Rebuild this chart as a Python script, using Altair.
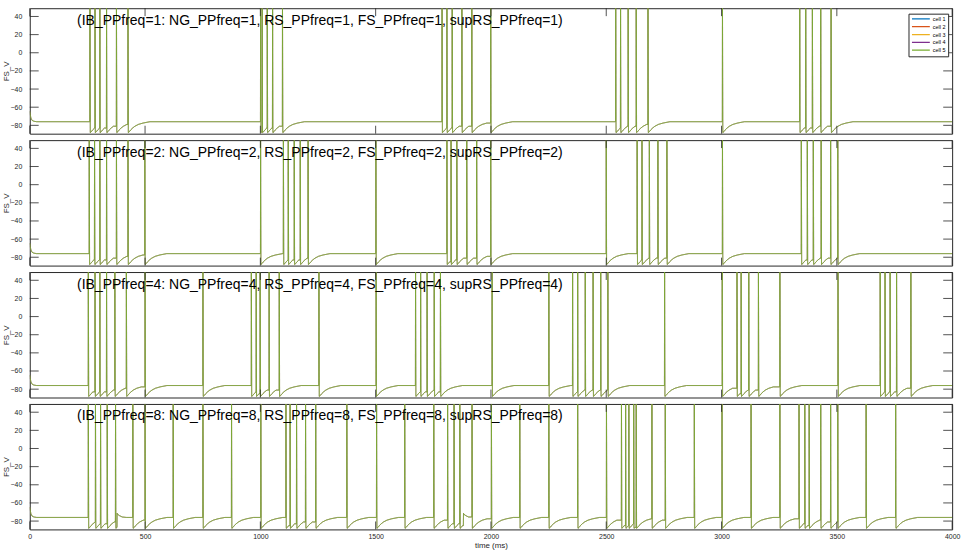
import altair as alt
import pandas as pd

# ---------------- data ----------------
T_MAX = 4000
Y_DOMAIN = [-89.2, 49.1]
y_ticks = [-80, -60, -40, -20, 0, 20, 40]
x_ticks = [0, 500, 1000, 1500, 2000, 2500, 3000, 3500, 4000]

cells = ["cell 1", "cell 2", "cell 3", "cell 4", "cell 5"]
cell_colors = ["#0072BD", "#D95319", "#EDB120", "#7E2F8E", "#77AC30"]

freqs = [1, 2, 4, 8]

spikes_f1 = [261, 283, 304, 333, 376, 426,
             1001, 1008, 1030, 1053, 1096,
             1788, 1809, 1832, 1874, 1917, 1999,
             2541, 2562, 2595, 2630, 2681,
             3004,
             3339, 3365, 3394, 3430, 3475]
spikes_f2 = [258, 281, 304, 333, 376, 426, 499,
             1001, 1100, 1121, 1147, 1173, 1207,
             1501, 1809, 1827, 1852, 1895, 1938, 1999,
             2500, 2634, 2655, 2687, 2724, 2763,
             3004, 3346, 3372, 3398, 3432, 3473, 3504]
spikes_f4 = [254, 283, 304, 333, 369, 419, 500, 751,
             961, 982, 999, 1038, 1082, 1254, 1502,
             1673, 1695, 1723, 1754, 1781, 2005,
             2251, 2354, 2376, 2409, 2443, 2476, 2507, 2753, 3003,
             3067, 3085, 3118, 3160, 3253, 3505,
             3688, 3709, 3731, 3759, 3821]
spikes_f8 = [254, 285, 307, 336, 372, 447, 500, 622, 751, 875,
             1002, 1111, 1129, 1157, 1196, 1240, 1375, 1504, 1626,
             1752, 1812, 1840, 1865, 1918, 2002,
             2125, 2251, 2376, 2501, 2566, 2584, 2598, 2619, 2630, 2698, 2756, 2882,
             3002, 3128, 3253, 3336, 3361, 3380, 3430, 3473, 3504, 3627, 3755]
bumps_f1, bumps_f2, bumps_f4 = [], [], []
bumps_f8 = [379, 1881]

spike_lists = [spikes_f1, spikes_f2, spikes_f4, spikes_f8]
bump_lists = [bumps_f1, bumps_f2, bumps_f4, bumps_f8]

# trace shape
onset_t = [0, 2, 5, 10, 18, 30]
onset_v = [-64.5, -68, -72, -74.5, -75.5, -76]
spike_peak = 60.0
rec_dt = [1.5, 6, 12, 20, 30, 45, 65, 95]
rec_v = [-88, -87, -85, -83, -81, -79, -77.5, -76]
bump_peak = -71.5
bump_dt = [2, 10, 22, 40]
bump_v = [-72.5, -74, -75.5, -76]

# ---------------- build traces ----------------
def build_trace(spikes, bumps):
    events = sorted([(t, "s") for t in spikes] + [(t, "b") for t in bumps])
    pts = list(zip(onset_t, onset_v))
    for i, (ts, kind) in enumerate(events):
        nxt = events[i + 1][0] if i + 1 < len(events) else T_MAX
        if pts[-1][0] < ts - 0.6:
            pts.append((ts - 0.6, pts[-1][1]))
        if kind == "s":
            pts.append((ts, spike_peak))
            dts, vs = rec_dt, rec_v
        else:
            pts.append((ts, bump_peak))
            dts, vs = bump_dt, bump_v
        for dt, v in zip(dts, vs):
            if ts + dt < nxt - 0.6:
                pts.append((ts + dt, v))
            else:
                break
    pts.append((T_MAX, pts[-1][1]))
    return pts


W, H = 930, 126.5
AX = "#262626"

x_scale = alt.Scale(domain=[0, T_MAX], nice=False, zero=False)
y_scale = alt.Scale(domain=Y_DOMAIN, nice=False, zero=False)


def panel(idx):
    f = freqs[idx]
    pts = build_trace(spike_lists[idx], bump_lists[idx])
    last = idx == len(freqs) - 1

    if last:
        x_axis = alt.Axis(values=x_ticks, ticks=False, domain=False, grid=False, format="d",
                          labelFontSize=7, labelPadding=3, labelColor=AX,
                          titleFontSize=8, titlePadding=2, titleColor=AX,
                          titleFontWeight="normal", labelFlush=False)
    else:
        x_axis = None
    x = alt.X("t:Q", scale=x_scale, axis=x_axis, title="time (ms)")
    y = alt.Y("v:Q", scale=y_scale, title="FS_V",
              axis=alt.Axis(values=y_ticks, ticks=False, domain=False, grid=False,
                            labelFontSize=7, labelPadding=8, labelColor=AX,
                            titleFontSize=8, titlePadding=1, titleColor=AX,
                            titleFontWeight="normal", minExtent=18, maxExtent=18))
    if idx == 0:
        legend = alt.Legend(orient="none", legendX=886, legendY=5.5, title=None,
                            labelFontSize=5.5, labelColor="black", symbolType="stroke",
                            symbolSize=324, symbolStrokeWidth=1.3, strokeColor=AX,
                            fillColor="white", padding=2.5, rowPadding=0.9, labelOffset=2,
                            clipHeight=5.5, cornerRadius=0)
    else:
        legend = None
    color = alt.Color("cell:N", scale=alt.Scale(domain=cells, range=cell_colors), legend=legend)

    line_layers = []
    for c in cells:
        df = pd.DataFrame({"t": [p[0] for p in pts],
                           "v": [p[1] for p in pts],
                           "cell": c})
        if c == cells[-1]:
            mk = alt.Chart(df).mark_line(strokeWidth=0.75, clip=True)
        else:
            mk = alt.Chart(df).mark_line(strokeWidth=0.5, strokeOpacity=0.45, clip=True)
        line_layers.append(mk.encode(x=x, y=y, color=color))

    title = f"(IB_PPfreq={f}: NG_PPfreq={f}, RS_PPfreq={f}, FS_PPfreq={f}, supRS_PPfreq={f})"
    text = alt.Chart(pd.DataFrame({"label": [title]})).mark_text(
        align="left", baseline="alphabetic", fontSize=14.1, color="black"
    ).encode(x=alt.value(47.7), y=alt.value(16.6), text="label:N")

    yt = pd.DataFrame({"v": y_ticks})
    xt = pd.DataFrame({"t": x_ticks})
    yl = alt.Chart(yt).mark_rule(color=AX, strokeWidth=0.8).encode(y=y, x=alt.value(0), x2=alt.value(9))
    yr = alt.Chart(yt).mark_rule(color=AX, strokeWidth=0.8).encode(y=y, x=alt.value(W - 9), x2=alt.value(W))
    xtp = alt.Chart(xt).mark_rule(color=AX, strokeWidth=0.8).encode(x=x, y=alt.value(0), y2=alt.value(8))
    xbt = alt.Chart(xt).mark_rule(color=AX, strokeWidth=0.8).encode(x=x, y=alt.value(H - 8), y2=alt.value(H))

    return alt.layer(*line_layers, yl, yr, xtp, xbt, text).properties(width=W, height=H)


chart = alt.vconcat(*[panel(i) for i in range(len(freqs))], spacing=4).resolve_scale(
    color="independent").resolve_legend(color="independent").properties(
    padding={"left": 2, "top": 5, "right": 8, "bottom": 2}
).configure(font="Liberation Sans").configure_view(stroke=AX, strokeWidth=1)

chart.save("out.html", embed_options={"renderer": "svg", "actions": False})
